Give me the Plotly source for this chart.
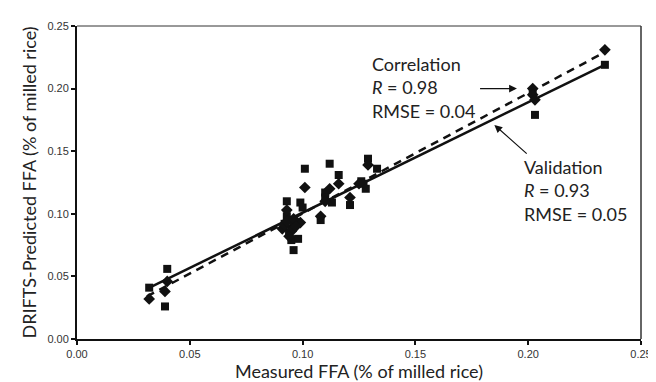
import plotly.graph_objects as go

# Squares
sq_x = [0.032, 0.040, 0.039, 0.093, 0.099, 0.100, 0.101, 0.112, 0.116, 0.110, 0.110, 0.113,
        0.108, 0.121, 0.126, 0.128, 0.129, 0.133, 0.095, 0.096, 0.098, 0.092, 0.094, 0.095,
        0.093, 0.096, 0.094, 0.127, 0.202, 0.203, 0.234]
sq_y = [0.041, 0.056, 0.026, 0.110, 0.109, 0.105, 0.136, 0.140, 0.131, 0.117, 0.113, 0.109,
        0.095, 0.107, 0.126, 0.120, 0.144, 0.136, 0.079, 0.071, 0.080, 0.092, 0.095, 0.088,
        0.098, 0.090, 0.085, 0.124, 0.197, 0.179, 0.219]

# Diamonds
dm_x = [0.032, 0.039, 0.040, 0.093, 0.101, 0.112, 0.116, 0.108, 0.099, 0.121, 0.129, 0.125,
        0.091, 0.092, 0.093, 0.095, 0.094, 0.096, 0.097, 0.110, 0.202, 0.202, 0.203, 0.234]
dm_y = [0.032, 0.038, 0.046, 0.103, 0.121, 0.120, 0.124, 0.098, 0.093, 0.113, 0.139, 0.124,
        0.088, 0.091, 0.094, 0.086, 0.082, 0.096, 0.090, 0.110, 0.200, 0.195, 0.191, 0.231]

# Regression lines (endpoints)
fit_x = [0.031, 0.2346]
corr_fit_y = [0.034, 0.2297]
val_fit_y = [0.040, 0.2196]

x_ticks = [0.00, 0.05, 0.10, 0.15, 0.20, 0.25]
y_ticks = [0.00, 0.05, 0.10, 0.15, 0.20, 0.25]

fig = go.Figure()
fig.add_trace(go.Scatter(x=fit_x, y=val_fit_y, mode="lines", name="Validation fit",
                         line=dict(color="#111", width=2.5)))
fig.add_trace(go.Scatter(x=fit_x, y=corr_fit_y, mode="lines", name="Correlation fit",
                         line=dict(color="#111", width=2.5, dash="8px,6px")))
fig.add_trace(go.Scatter(x=sq_x, y=sq_y, mode="markers", name="Squares",
                         marker=dict(symbol="square", size=8, color="#111")))
fig.add_trace(go.Scatter(x=dm_x, y=dm_y, mode="markers", name="Diamonds",
                         marker=dict(symbol="diamond", size=9, color="#111")))

txtfont = dict(family="Lato, Noto Sans, sans-serif", size=18, color="#222")

fig.add_annotation(x=0.1305, y=0.201, xref="x", yref="y", xanchor="left", yanchor="middle",
                   showarrow=False, align="left", font=txtfont, borderpad=0,
                   text="Correlation<br><i>R</i> = 0.98<br>RMSE = 0.04")
fig.add_annotation(x=0.195, y=0.2, xref="x", yref="y", ax=0.178, ay=0.2, axref="x", ayref="y",
                   showarrow=True, arrowhead=2, arrowsize=1.3, arrowwidth=1.2, arrowcolor="#111", text="")
fig.add_annotation(x=0.1975, y=0.1187, xref="x", yref="y", xanchor="left", yanchor="middle",
                   showarrow=False, align="left", font=txtfont, borderpad=0,
                   text="Validation<br><i>R</i> = 0.93<br>RMSE = 0.05")
fig.add_annotation(x=0.185, y=0.171, xref="x", yref="y", ax=0.2, ay=0.147, axref="x", ayref="y",
                   showarrow=True, arrowhead=2, arrowsize=1.3, arrowwidth=1.2, arrowcolor="#111", text="")

fig.add_shape(type="line", xref="paper", yref="paper", x0=0, x1=1, y0=1, y1=1,
              line=dict(color="#333", width=1))
fig.add_shape(type="line", xref="paper", yref="paper", x0=1, x1=1, y0=0, y1=1,
              line=dict(color="#333", width=1.5))

tickfont = dict(family="Arial, Liberation Sans, sans-serif", size=11, color="#333")
fig.update_xaxes(range=[0, 0.25], tickvals=x_ticks, tickformat=".2f", showgrid=False, zeroline=False,
                 showline=True, linecolor="#111", linewidth=2, ticks="outside", ticklen=4,
                 tickwidth=2, tickcolor="#111", tickfont=tickfont,
                 title=dict(text="Measured FFA (% of milled rice)", font=txtfont, standoff=4))
fig.update_yaxes(range=[0, 0.25], tickvals=y_ticks, tickformat=".2f", showgrid=False, zeroline=False,
                 showline=True, linecolor="#111", linewidth=2, ticks="outside", ticklen=4,
                 tickwidth=2, tickcolor="#111", tickfont=tickfont,
                 title=dict(text="DRIFTS-Predicted FFA (% of milled rice)", font=txtfont, standoff=6))
fig.update_layout(width=656, height=382, margin=dict(l=69, r=14, t=15, b=51),
                  plot_bgcolor="white", paper_bgcolor="white", showlegend=False)

fig.write_html("out.html")
